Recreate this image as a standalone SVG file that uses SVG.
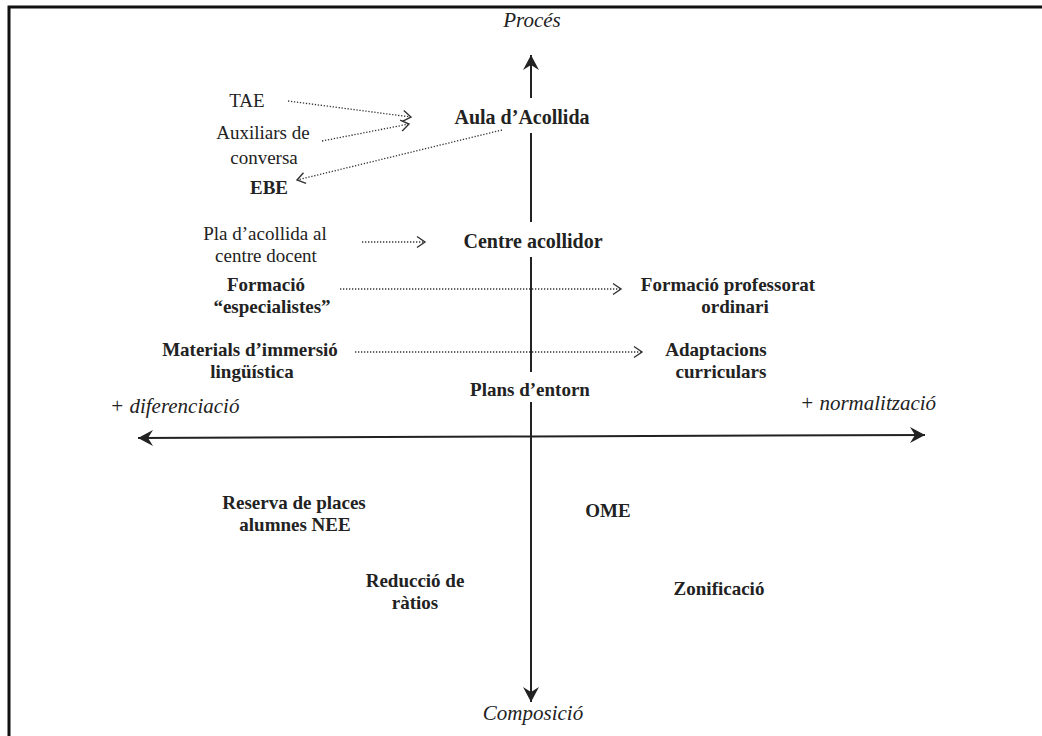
<svg xmlns="http://www.w3.org/2000/svg" width="1042" height="736" viewBox="0 0 1042 736">
<defs>
<style>
text{font-family:"Liberation Serif","Times New Roman",serif;font-size:19px;fill:#222;}
.b{font-weight:bold;}
.i{font-style:italic;font-size:21px;}
.m{text-anchor:middle;}
.big{font-size:20px;}
.axis{stroke:#222;stroke-width:2;fill:none;}
.dot{stroke:#333;stroke-width:1.3;stroke-dasharray:1.3 1.7;fill:none;}
</style>
<marker id="head" viewBox="-16 -9 18 18" refX="0" refY="0" markerWidth="18" markerHeight="18" markerUnits="userSpaceOnUse" orient="auto">
<path d="M-15,-8 L0,0 L-15,8 L-10,0 Z" fill="#222"/>
</marker>
<marker id="chev" viewBox="-10 -7 12 14" refX="0" refY="0" markerWidth="12" markerHeight="14" markerUnits="userSpaceOnUse" orient="auto">
<path d="M-8,-5.5 L0,0 L-8,5.5" fill="none" stroke="#333" stroke-width="1.4"/>
</marker>
</defs>
<rect width="1042" height="736" fill="#fff"/>
<g id="frame">
<path d="M9,736 L9,7 L1042,7" fill="none" stroke="#111" stroke-width="3"/>
</g>
<g id="connectors">
<line class="axis" x1="531" y1="98" x2="531" y2="55" marker-end="url(#head)"/>
<line class="axis" x1="531" y1="133" x2="531" y2="222"/>
<line class="axis" x1="531" y1="257" x2="531" y2="372"/>
<line class="axis" x1="531" y1="402" x2="531" y2="702" marker-end="url(#head)"/>
<line class="axis" x1="531" y1="436.5" x2="138" y2="438" marker-end="url(#head)"/>
<line class="axis" x1="531" y1="436.5" x2="925" y2="435" marker-end="url(#head)"/>
<line class="dot" x1="288" y1="101" x2="411" y2="117" marker-end="url(#chev)"/>
<line class="dot" x1="322" y1="141" x2="409" y2="124" marker-end="url(#chev)"/>
<line class="dot" x1="502" y1="130" x2="297" y2="180" marker-end="url(#chev)"/>
<line class="dot" x1="362" y1="242" x2="425" y2="242" marker-end="url(#chev)"/>
<line class="dot" x1="340" y1="289" x2="621" y2="289" marker-end="url(#chev)"/>
<line class="dot" x1="355" y1="352" x2="642" y2="352" marker-end="url(#chev)"/>
</g>
<g id="axis-labels">
<text class="i m" x="532" y="27">Procés</text>
<text class="i m" x="533" y="720">Composició</text>
<text class="i" x="110" y="413">+ diferenciació</text>
<text class="i" x="800" y="410">+ normalització</text>
</g>
<g id="aula"><text class="b m big" x="522" y="124">Aula d’Acollida</text></g>
<g id="tae"><text class="m" x="247" y="107">TAE</text></g>
<g id="auxiliars"><text class="m" x="263" y="139">Auxiliars de</text><text class="m" x="264" y="164">conversa</text></g>
<g id="ebe"><text class="b m" x="269" y="194">EBE</text></g>
<g id="pla"><text class="m" x="265" y="240">Pla d’acollida al</text><text class="m" x="266" y="262">centre docent</text></g>
<g id="centre"><text class="b m big" x="533" y="248">Centre acollidor</text></g>
<g id="formacio-esp"><text class="b m" x="266" y="291">Formació</text><text class="b m" x="272" y="313">“especialistes”</text></g>
<g id="formacio-prof"><text class="b m" x="728" y="291">Formació professorat</text><text class="b m" x="735" y="313">ordinari</text></g>
<g id="materials"><text class="b m" x="250" y="356">Materials d’immersió</text><text class="b m" x="252" y="378">lingüística</text></g>
<g id="adaptacions"><text class="b m" x="716" y="356">Adaptacions</text><text class="b m" x="721" y="378">curriculars</text></g>
<g id="plans"><text class="b m" x="530" y="396">Plans d’entorn</text></g>
<g id="reserva"><text class="b m" x="294" y="509">Reserva de places</text><text class="b m" x="295" y="531">alumnes NEE</text></g>
<g id="ome"><text class="b m" x="608" y="517">OME</text></g>
<g id="reduccio"><text class="b m" x="415" y="587">Reducció de</text><text class="b m" x="415" y="609">ràtios</text></g>
<g id="zonificacio"><text class="b m" x="719" y="595">Zonificació</text></g>
</svg>
